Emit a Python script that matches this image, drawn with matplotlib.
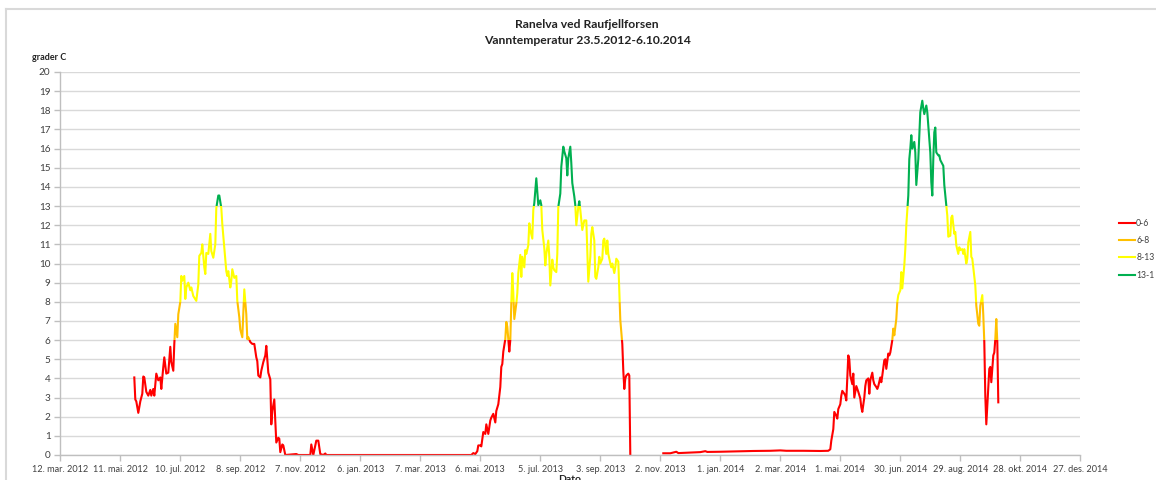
import numpy as np
import matplotlib.pyplot as plt
from matplotlib.patches import Rectangle
from matplotlib.lines import Line2D

plt.rcParams['font.family'] = ['Lato', 'DejaVu Sans']

# dager etter 12.3.2012
base_date = np.datetime64('2012-03-12')

days_2012_13 = [
    74, 75, 76, 78, 80, 82, 83, 84, 86, 88, 90, 91, 93, 94, 96, 98, 100, 101, 103, 104,
    106, 108, 110, 111, 113, 114, 115, 117, 118, 120, 121, 122, 124, 125, 126, 128, 130, 131, 133, 136,
    138, 139, 141, 142, 144, 145, 146, 148, 150, 151, 153, 155, 156, 158, 159, 161, 162, 164, 166, 167,
    168, 170, 171, 172, 174, 176, 177, 179, 180, 182, 183, 184, 186, 187, 188, 190, 192, 194, 196, 197,
    198, 200, 201, 203, 205, 206, 208, 210, 211, 212, 214, 215, 216, 218, 219, 220, 222, 223, 225, 236,
    238, 250, 251, 253, 255, 256, 258, 260, 263, 265, 266, 411, 413, 415, 417, 418, 420, 421, 423, 425,
    426, 428, 430, 431, 433, 435, 436, 438, 440, 441, 442, 443, 445, 446, 447, 449, 450, 451, 452, 453,
    454, 456, 457, 458, 460, 461, 462, 464, 465, 466, 468, 469, 470, 472, 473, 474, 476, 478, 480, 481,
    482, 484, 485, 486, 488, 489, 490, 492, 493, 494, 496, 497, 498, 500, 501, 503, 504, 506, 507, 508,
    510, 511, 512, 514, 515, 516, 518, 519, 520, 522, 523, 524, 526, 527, 528, 530, 531, 532, 534, 535,
    536, 538, 539, 540, 542, 543, 544, 546, 547, 548, 550, 551, 552, 554, 555, 556, 558, 559, 560, 562,
    563, 564, 565, 566, 568, 569, 570,
]
temp_2012_13 = [
    4.05, 2.9, 2.8, 2.2, 2.8, 3.2, 4.1, 4.05, 3.3, 3.1, 3.4, 3.1, 3.45, 3.1, 4.25, 3.9, 4.05, 3.45, 4.6, 5.1,
    4.25, 4.3, 5.65, 4.85, 4.4, 5.8, 6.85, 6.15, 7.35, 8.0, 9.35, 9.1, 9.35, 8.15, 8.75, 9.0, 8.6, 8.75, 8.3, 8.05,
    8.9, 10.4, 10.55, 11.0, 9.8, 9.45, 10.55, 10.5, 11.55, 10.65, 10.3, 11.0, 12.9, 13.55, 13.55, 12.9, 12.05, 10.85, 9.6, 9.35,
    9.6, 8.75, 9.1, 9.7, 9.25, 9.35, 8.05, 7.2, 6.55, 6.15, 7.35, 8.65, 7.35, 6.05, 6.15, 5.9, 5.8, 5.8, 5.1, 4.9,
    4.15, 4.05, 4.4, 4.85, 5.2, 5.7, 4.3, 3.95, 1.6, 2.3, 2.9, 1.8, 0.65, 0.9, 0.85, 0.15, 0.55, 0.5, 0.0, 0.05,
    0.0, 0.0, 0.55, 0.0, 0.5, 0.75, 0.75, 0.05, 0.0, 0.08, 0.0, 0.0, 0.1, 0.05, 0.2, 0.5, 0.5, 0.45, 1.2, 1.1,
    1.6, 1.1, 1.8, 1.95, 2.15, 1.7, 2.3, 2.65, 3.55, 4.6, 4.75, 5.4, 6.05, 6.95, 6.7, 5.4, 6.0, 7.9, 9.5, 8.45,
    7.1, 7.9, 8.45, 9.5, 10.45, 9.3, 10.35, 9.8, 10.7, 10.5, 10.95, 12.1, 11.75, 11.3, 12.8, 13.15, 14.45, 13.05, 13.3, 13.05,
    11.75, 10.8, 9.9, 10.5, 11.2, 10.35, 8.85, 10.2, 9.8, 9.65, 9.55, 10.5, 12.95, 13.65, 15.05, 16.1, 15.85, 15.5, 14.6, 15.5,
    16.1, 15.25, 14.2, 13.5, 13.05, 12.0, 12.95, 13.25, 12.8, 11.75, 12.0, 12.25, 12.25, 10.7, 9.05, 10.35, 11.55, 11.9, 11.2, 9.3,
    9.2, 9.8, 10.35, 10.0, 10.25, 11.2, 11.3, 10.5, 11.2, 10.5, 10.0, 9.8, 10.0, 9.5, 9.8, 10.25, 10.1, 8.6, 7.05, 5.8,
    4.4, 3.45, 4.0, 4.15, 4.25, 4.15, 0.0,
]

days_2013_14 = [
    603, 610, 616, 618, 626, 640, 645, 647, 660, 676, 693, 710, 720, 726, 743, 760, 766, 768, 770, 771,
    773, 774, 776, 777, 778, 780, 781, 782, 784, 785, 786, 788, 789, 790, 792, 793, 794, 796, 797, 798,
    800, 801, 802, 804, 805, 806, 808, 809, 810, 812, 813, 814, 816, 817, 818, 820, 821, 822, 824, 825,
    826, 828, 829, 830, 832, 833, 834, 836, 837, 838, 840, 841, 842, 844, 845, 846, 848, 849, 850, 851,
    852, 854, 855, 856, 858, 859, 860, 862, 863, 864, 866, 867, 868, 870, 871, 872, 873, 874, 875, 876,
    878, 879, 880, 882, 883, 884, 886, 887, 888, 890, 891, 892, 894, 895, 896, 898, 899, 900, 902, 903,
    904, 906, 907, 908, 910, 911, 912, 914, 915, 916, 918, 919, 920, 922, 923, 924, 925, 926, 927, 929,
    930, 931, 933, 934, 935, 936, 937, 938,
]
temp_2013_14 = [
    0.09, 0.09, 0.17, 0.1, 0.12, 0.15, 0.2, 0.16, 0.17, 0.19, 0.21, 0.22, 0.24, 0.22, 0.22, 0.21, 0.22, 0.22, 0.3, 0.75,
    1.35, 2.25, 2.05, 1.9, 2.4, 2.65, 3.1, 3.35, 3.2, 3.1, 2.85, 5.2, 5.0, 4.15, 3.7, 4.25, 3.0, 3.6, 3.45, 3.3,
    2.95, 2.5, 2.25, 3.0, 3.6, 3.9, 4.0, 3.2, 3.9, 4.3, 3.9, 3.7, 3.55, 3.45, 3.6, 4.05, 3.8, 4.15, 4.95, 5.0,
    4.5, 5.3, 5.2, 5.35, 6.0, 6.6, 6.25, 7.1, 8.0, 8.35, 8.6, 9.55, 8.7, 9.9, 10.75, 12.0, 13.55, 15.45, 16.0, 16.7,
    16.0, 16.35, 15.8, 14.1, 15.45, 16.7, 17.9, 18.5, 18.1, 17.8, 18.25, 17.9, 17.2, 15.8, 14.25, 13.55, 15.45, 16.85, 17.1, 15.8,
    15.65, 15.65, 15.4, 15.2, 15.1, 14.1, 13.0, 12.5, 11.4, 11.45, 12.4, 12.5, 11.55, 11.65, 10.95, 10.5, 10.85, 10.7, 10.75, 10.5,
    10.75, 10.0, 10.25, 11.1, 11.65, 10.35, 10.25, 9.3, 8.85, 7.8, 6.85, 6.75, 7.8, 8.35, 7.3, 5.9, 3.1, 1.6, 2.6, 4.5,
    4.6, 3.8, 5.2, 5.35, 6.05, 7.1, 5.9, 2.75,
]

band_edges = [0, 6, 8, 13, 20]
band_labels = ['0-6', '6-8', '8-13', '13-1']
band_colors = ['#ff0000', '#ffc000', '#ffff00', '#00b050']

tick_labels = [
    '12. mar. 2012', '11. mai. 2012', '10. jul. 2012', '8. sep. 2012', '7. nov. 2012',
    '6. jan. 2013', '7. mar. 2013', '6. mai. 2013', '5. jul. 2013', '3. sep. 2013',
    '2. nov. 2013', '1. jan. 2014', '2. mar. 2014', '1. mai. 2014', '30. jun. 2014',
    '29. aug. 2014', '28. okt. 2014', '27. des. 2014',
]
tick_step = 60

# en serie med hull mellom periodene
days = np.concatenate([days_2012_13, [days_2012_13[-1] + 1], days_2013_14])
temps = np.concatenate([temp_2012_13, [np.nan], temp_2013_14])
dates = base_date + days.astype('timedelta64[D]')

fig = plt.figure(figsize=(11.56, 4.8), dpi=100)
ax = fig.add_axes([60.3 / 1156, 25 / 480, 1020 / 1156, 383 / 480])

for i in range(len(band_labels)):
    lo = band_edges[i] if i > 0 else -5
    hi = band_edges[i + 1] if i < len(band_labels) - 1 else 30
    line, = ax.plot(dates, temps, color=band_colors[i], lw=1.5, label=band_labels[i],
                    solid_joinstyle='round')
    clip = Rectangle((0, lo), 1, hi - lo, transform=ax.get_yaxis_transform())
    line.set_clip_path(clip)

tick_dates = base_date + (np.arange(len(tick_labels)) * tick_step).astype('timedelta64[D]')
ax.set_xlim(tick_dates[0], tick_dates[-1])
ax.set_xticks(tick_dates)
ax.set_xticklabels(tick_labels)
ax.set_ylim(0, 20)
ax.set_yticks(range(0, 21))

ax.yaxis.grid(True, color='#d9d9d9', lw=1.0)
ax.set_axisbelow(True)
for s in ['top', 'right']:
    ax.spines[s].set_visible(False)
for s in ['left', 'bottom']:
    ax.spines[s].set_color('#bfbfbf')
    ax.spines[s].set_linewidth(1.0)
ax.tick_params(axis='both', length=4, width=1, color='#bfbfbf', labelcolor='#404040',
               labelsize=7.2, pad=3)
ax.tick_params(axis='x', labelsize=6.6)

fig.text(587 / 1156, 1 - 24 / 480, 'Ranelva ved Raufjellforsen', ha='center', va='center',
         fontsize=8.7, fontweight='bold', color='#222222')
fig.text(587 / 1156, 1 - 40 / 480, 'Vanntemperatur 23.5.2012-6.10.2014', ha='center', va='center',
         fontsize=8.7, fontweight='bold', color='#222222')
fig.text(32 / 1156, 1 - 57 / 480, 'grader C', ha='left', va='center', fontsize=6.5,
         fontweight='bold', color='#222222')
fig.text(570 / 1156, 1 - 475 / 480, 'Dato', ha='center', va='top', fontsize=7.5,
         fontweight='bold', color='#222222')

fig.legend(loc='upper left', bbox_to_anchor=(1119 / 1156, 1 - 219 / 480), frameon=False,
           fontsize=6.2, handlelength=1.9, handletextpad=0.1, labelspacing=0.95,
           borderpad=0, borderaxespad=0, labelcolor='#404040')

# ramme rundt diagrammet
fig.add_artist(Line2D([6 / 1156, 6 / 1156], [0, 1 - 9 / 480], transform=fig.transFigure,
                      color='#d9d9d9', lw=1.5))
fig.add_artist(Line2D([6 / 1156, 1], [1 - 9 / 480, 1 - 9 / 480], transform=fig.transFigure,
                      color='#d9d9d9', lw=1.5))

fig.savefig('out.png', dpi=100)
